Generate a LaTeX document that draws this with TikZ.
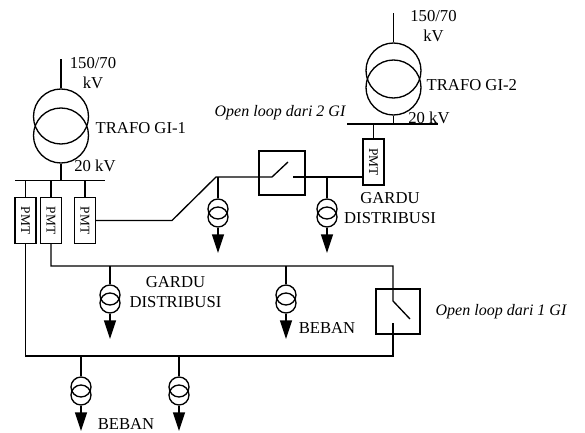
\documentclass[tikz,border=0pt]{standalone}
\usepackage{fontspec}
\setmainfont{Liberation Serif}
\usetikzlibrary{arrows.meta}
\begin{document}
\begin{tikzpicture}[x=0.75pt,y=-0.75pt,line width=1pt,
  bigc/.style={circle,draw,minimum size=41.25pt,inner sep=0pt},
  smc/.style={circle,draw,minimum size=15pt,inner sep=0pt},
  pmtbox/.style={rectangle,draw,minimum width=15.75pt,minimum height=34.5pt,inner sep=0pt,font=\fontsize{10}{12}\selectfont},
  swbox/.style={rectangle,draw,inner sep=0pt},
  lbl/.style={inner sep=0pt,font=\fontsize{12.5}{15}\selectfont,align=center},
  ilbl/.style={inner sep=0pt,font=\fontsize{12}{14.5}\selectfont\itshape},
  load/.style={-{Triangle[width=9pt,length=14pt]}}]
\useasboundingbox (0,0) rectangle (585,432);
\fill[white] (0,0) rectangle (585,432);

% ---------- GI-1 ----------
\node[bigc] (t1u) at (61,116.5) {};
\node[bigc] (t1l) at (61,135.5) {};
\coordinate (t1in) at (61,59);
\draw (t1in) -- (t1u.north);
\coordinate (bus1L) at (15,180.5);
\coordinate (bus1R) at (105,180.5);
\coordinate (t1out) at (61,180.5);
\draw (bus1L) -- (bus1R);
\draw (t1l.south) -- (t1out);
\node[lbl] (v1) at (93,73) {150/70\\kV};
\node[lbl,anchor=west] (tr1) at (95,128) {TRAFO GI-1};
\node[lbl] (kv1) at (95,166) {20 kV};

\node[pmtbox] (p1) at (25.5,220.5) {\rotatebox{-90}{PMT}};
\node[pmtbox] (p2) at (51,220.5) {\rotatebox{-90}{PMT}};
\node[pmtbox] (p3) at (85,220.5) {\rotatebox{-90}{PMT}};
\coordinate (j1) at (25.5,180.5);
\coordinate (j2) at (51,180.5);
\coordinate (j3) at (85,180.5);
\draw (j1) -- (p1.north);
\draw (j2) -- (p2.north);
\draw (j3) -- (p3.north);

% ---------- GI-2 ----------
\node[bigc] (t2u) at (393.5,70.5) {};
\node[bigc] (t2l) at (393.5,87.5) {};
\coordinate (t2in) at (393.5,13);
\draw (t2in) -- (t2u.north);
\coordinate (bus2L) at (347,124);
\coordinate (bus2R) at (438,124);
\coordinate (t2out) at (393.5,124);
\draw (bus2L) -- (bus2R);
\draw (t2l.south) -- (t2out);
\node[lbl] (v2) at (433.5,26) {150/70\\kV};
\node[lbl,anchor=west] (tr2) at (426,85) {TRAFO GI-2};
\node[lbl] (kv2) at (429,118) {20 kV};

\node[pmtbox] (p4) at (373.5,162) {\rotatebox{-90}{PMT}};
\coordinate (j4) at (373.5,124);
\draw (j4) -- (p4.north);

% ---------- open loop 2 GI ----------
\node[swbox,minimum width=34.5pt,minimum height=33pt] (s2) at (282,173) {};
\coordinate (d1) at (172,220.5);
\coordinate (d2) at (216,177);
\coordinate (s2a) at (272,177);
\coordinate (s2b) at (288,162);
\coordinate (s2c) at (293,177);
\coordinate (p4in) at (363,177);
\draw (p3.east) -- (d1) -- (d2) -- (s2a) -- (s2b);
\draw (s2c) -- (p4in);
\node[ilbl,anchor=east] (ol2) at (346,113) {Open loop dari 2 GI};
\node[lbl] (gd2) at (390,208.5) {GARDU\\DISTRIBUSI};

% ---------- loop from 1 GI ----------
\coordinate (m1) at (51,266);
\coordinate (m2) at (393,266);
\coordinate (s1a) at (393,301);
\coordinate (s1b) at (410,319);
\coordinate (s1c) at (393,323);
\coordinate (b2) at (393,356);
\coordinate (b1) at (25.5,356);
\node[swbox,minimum width=33pt,minimum height=33.75pt] (s1) at (398,311.5) {};
\draw (p2.south) -- (m1) -- (m2) -- (s1a) -- (s1b);
\draw (s1c) -- (b2) -- (b1) -- (p1.south);
\node[ilbl,anchor=west] (ol1) at (435,312) {Open loop dari 1 GI};
\node[lbl] (gd1) at (175.5,292.5) {GARDU\\DISTRIBUSI};
\node[lbl] (bb1) at (327,328) {BEBAN};
\node[lbl] (bb2) at (126,424) {BEBAN};

% ---------- distribution transformers ----------
\foreach \n/\x/\yb/\yc in {a/218/177/209, b/327/177/209, c/110/266/295, d/286/266/295, e/81/356/387, f/179/356/387}
{
  \coordinate (\n0) at (\x,\yb);
  \node[smc] (\n1) at (\x,\yc) {};
  \node[smc] (\n2) at (\x,\yc+8) {};
  \coordinate (\n3) at (\x,\yc+44);
  \draw (\n0) -- (\n1.north);
  \draw[load] (\n2.south) -- (\n3);
}
\end{tikzpicture}
\end{document}
